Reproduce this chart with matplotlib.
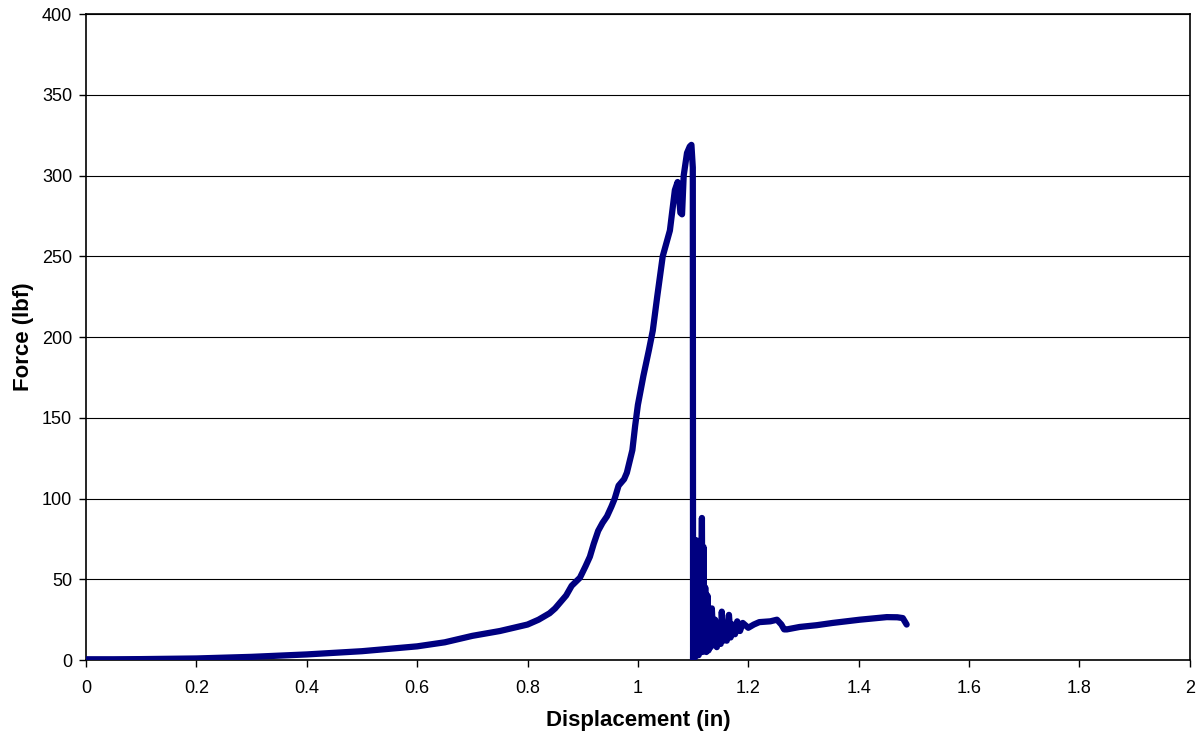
import numpy as np
import matplotlib
matplotlib.use("Agg")
from matplotlib import pyplot as plt

# displacement (in) / force (lbf)
disp = [0.0, 0.05, 0.1, 0.2, 0.3, 0.4, 0.5, 0.6, 0.65, 0.7, 0.75, 0.8, 0.82,
        0.84, 0.85, 0.87, 0.88, 0.895, 0.905, 0.913, 0.92, 0.928, 0.936, 0.944,
        0.952, 0.958, 0.965, 0.975, 0.98, 0.99, 0.995, 1.0, 1.01, 1.02, 1.027,
        1.035, 1.045, 1.058, 1.067, 1.072, 1.075, 1.077, 1.080, 1.083, 1.089,
        1.094, 1.097, 1.0995,
        1.100, 1.101, 1.102, 1.103, 1.104, 1.105, 1.106, 1.107, 1.108, 1.109,
        1.110, 1.112, 1.114, 1.116, 1.117, 1.119, 1.120, 1.122, 1.124, 1.126,
        1.128, 1.130, 1.132, 1.134, 1.137, 1.140, 1.143, 1.147, 1.150, 1.152,
        1.155, 1.158, 1.161, 1.165, 1.168, 1.172, 1.176, 1.180, 1.185, 1.190,
        1.200, 1.210, 1.220, 1.240, 1.252, 1.260, 1.265, 1.270, 1.293, 1.324,
        1.353, 1.402, 1.451, 1.470, 1.480, 1.487]
force = [0.5, 0.5, 0.6, 1.0, 2.0, 3.5, 5.5, 8.5, 11, 15, 18, 22, 25,
         29, 32, 40, 46, 51, 58, 64, 72, 80, 85, 89,
         95, 100, 108, 112, 116, 130, 145, 158, 176, 192, 204,
         225, 250, 266, 291, 296, 285, 277, 276, 300, 314,
         318, 319, 305,
         0, 70, 5, 60, 2, 74, 10, 74, 5, 55,
         3, 60, 8, 88, 5, 70, 8, 45, 5, 40,
         6, 30, 8, 32, 10, 25, 8, 18, 10, 30,
         12, 20, 12, 28, 14, 22, 16, 24, 18, 23,
         20, 22, 23.5, 24, 25, 22, 19, 19, 20.5, 21.6,
         23, 25, 26.6, 26.5, 26, 22]

x_ticks = [0, 0.2, 0.4, 0.6, 0.8, 1, 1.2, 1.4, 1.6, 1.8, 2]
x_tick_labels = ["0", "0.2", "0.4", "0.6", "0.8", "1", "1.2", "1.4", "1.6", "1.8", "2"]
y_ticks = [0, 50, 100, 150, 200, 250, 300, 350, 400]

plt.rcParams['font.family'] = ['Liberation Sans', 'DejaVu Sans']

fig = plt.figure(figsize=(12.03, 7.4), dpi=100)
ax = fig.add_axes([0.0715, 0.108, 0.9175, 0.873])

ax.plot(disp, force, color="#000080", lw=4.5, solid_joinstyle="round",
        solid_capstyle="round", zorder=3)

ax.set_xlim(0, 2)
ax.set_ylim(0, 400)
ax.set_xticks(x_ticks)
ax.set_xticklabels(x_tick_labels)
ax.set_yticks(y_ticks)
ax.yaxis.grid(True, color="black", lw=0.8)
ax.set_axisbelow(True)
for s in ax.spines.values():
    s.set_linewidth(1.2)
    s.set_color("black")
ax.tick_params(axis="both", labelsize=13, length=5, width=1, direction="out")
ax.tick_params(axis="x", pad=9)
ax.tick_params(axis="y", pad=5)

ax.set_xlabel("Displacement (in)", fontsize=16, fontweight="bold", labelpad=10)
ax.set_ylabel("Force (lbf)", fontsize=16, fontweight="bold", labelpad=6)

fig.savefig("out.png", dpi=100)
